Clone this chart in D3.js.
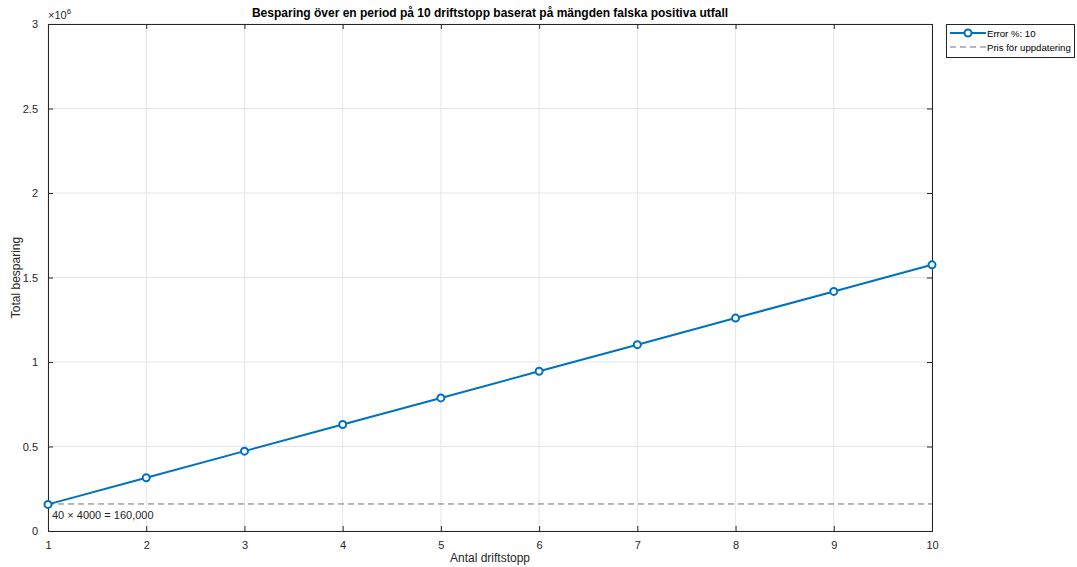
<!DOCTYPE html>
<html>
<head>
<meta charset="utf-8">
<script src="https://cdn.jsdelivr.net/npm/d3@7"></script>
<style>
  body { margin: 0; background: #fff; }
  text { font-family: "Liberation Sans", Arial, sans-serif; }
</style>
</head>
<body>
<div id="chart"></div>
<script>
const stops = [1, 2, 3, 4, 5, 6, 7, 8, 9, 10];
const savings = [157500, 315000, 472500, 630000, 787500, 945000, 1102500, 1260000, 1417500, 1575000];
const updatePrice = 160000;
const xTicks = [1, 2, 3, 4, 5, 6, 7, 8, 9, 10];
const yTicks = [0, 0.5e6, 1e6, 1.5e6, 2e6, 2.5e6, 3e6];

const width = 1077;
const height = 567;
const margin = { left: 48, right: 145, top: 24, bottom: 36 };

const svg = d3.select("#chart").append("svg")
  .attr("width", width)
  .attr("height", height);

const x = d3.scaleLinear().domain([1, 10]).range([margin.left, width - margin.right]);
const y = d3.scaleLinear().domain([0, 3e6]).range([height - margin.bottom, margin.top]);

const axisColor = "#262626";
const blue = "#0072BD";

// grid
svg.append("g").selectAll("line").data(xTicks).enter().append("line")
  .attr("x1", d => x(d)).attr("x2", d => x(d))
  .attr("y1", y(0)).attr("y2", y(3e6))
  .attr("stroke", "#e6e6e6").attr("stroke-width", 1);
svg.append("g").selectAll("line").data(yTicks).enter().append("line")
  .attr("x1", x(1)).attr("x2", x(10))
  .attr("y1", d => y(d)).attr("y2", d => y(d))
  .attr("stroke", "#e6e6e6").attr("stroke-width", 1);

// axes
const fmtY = d => d === 0 ? "0" : d3.format("~g")(d / 1e6);

const axBottom = svg.append("g").attr("transform", `translate(0,${y(0)})`)
  .call(d3.axisBottom(x).tickValues(xTicks).tickSize(-5).tickPadding(10).tickFormat(d3.format("d")));
const axTop = svg.append("g").attr("transform", `translate(0,${y(3e6)})`)
  .call(d3.axisTop(x).tickValues(xTicks).tickSize(-5).tickFormat(""));
const axLeft = svg.append("g").attr("transform", `translate(${x(1)},0)`)
  .call(d3.axisLeft(y).tickValues(yTicks).tickSize(-5).tickPadding(10).tickFormat(fmtY));
const axRight = svg.append("g").attr("transform", `translate(${x(10)},0)`)
  .call(d3.axisRight(y).tickValues(yTicks).tickSize(-5).tickFormat(""));

[axBottom, axTop, axLeft, axRight].forEach(g => {
  g.select(".domain").attr("stroke", axisColor).attr("stroke-width", 1);
  g.selectAll(".tick line").attr("stroke", axisColor);
  g.selectAll(".tick text").attr("fill", axisColor).attr("font-size", 11);
});

// exponent label
const expo = svg.append("text")
  .attr("x", x(1)).attr("y", margin.top - 5)
  .attr("font-size", 11).attr("fill", axisColor);
expo.append("tspan").text("×10");
expo.append("tspan").attr("dy", -5).attr("font-size", 8).text("6");

// threshold line
svg.append("line")
  .attr("x1", x(1)).attr("x2", x(10))
  .attr("y1", y(updatePrice)).attr("y2", y(updatePrice))
  .attr("stroke", "#4d4d4d").attr("stroke-width", 0.8).attr("stroke-dasharray", "6,4");
svg.append("text")
  .attr("x", x(1) + 4).attr("y", y(updatePrice) + 15)
  .attr("font-size", 11).attr("fill", "#262626")
  .text("40 × 4000 = 160,000");

// series
const line = d3.line().x((d, i) => x(stops[i])).y(d => y(d));
svg.append("path").datum(savings)
  .attr("d", line)
  .attr("fill", "none").attr("stroke", blue).attr("stroke-width", 2);
svg.append("g").selectAll("circle").data(savings).enter().append("circle")
  .attr("cx", (d, i) => x(stops[i])).attr("cy", d => y(d))
  .attr("r", 3.5)
  .attr("fill", "#fff").attr("stroke", blue).attr("stroke-width", 2);

// title & labels
svg.append("text")
  .attr("x", (x(1) + x(10)) / 2).attr("y", 17)
  .attr("text-anchor", "middle").attr("font-size", 12).attr("font-weight", "bold")
  .attr("fill", "#000")
  .text("Besparing över en period på 10 driftstopp baserat på mängden falska positiva utfall");
svg.append("text")
  .attr("x", (x(1) + x(10)) / 2).attr("y", height - 5)
  .attr("text-anchor", "middle").attr("font-size", 12).attr("fill", axisColor)
  .text("Antal driftstopp");
svg.append("text")
  .attr("transform", `translate(20,${(y(0) + y(3e6)) / 2}) rotate(-90)`)
  .attr("text-anchor", "middle").attr("font-size", 12).attr("fill", axisColor)
  .text("Total besparing");

// legend
const lg = svg.append("g").attr("transform", "translate(946,24)");
lg.append("rect").attr("x", 0.5).attr("y", 0.5).attr("width", 128).attr("height", 33)
  .attr("fill", "#fff").attr("stroke", axisColor).attr("stroke-width", 1);
lg.append("line").attr("x1", 4).attr("x2", 40).attr("y1", 9).attr("y2", 9)
  .attr("stroke", blue).attr("stroke-width", 2);
lg.append("circle").attr("cx", 22).attr("cy", 9).attr("r", 3.5)
  .attr("fill", "#fff").attr("stroke", blue).attr("stroke-width", 2);
lg.append("text").attr("x", 41).attr("y", 12.5).attr("font-size", 9.6).attr("fill", "#000").text("Error %: 10");
lg.append("line").attr("x1", 4).attr("x2", 40).attr("y1", 23).attr("y2", 23)
  .attr("stroke", "#4d4d4d").attr("stroke-width", 0.8).attr("stroke-dasharray", "6,4");
lg.append("text").attr("x", 41).attr("y", 26.5).attr("font-size", 9.6).attr("fill", "#000").text("Pris för uppdatering");
</script>
</body>
</html>
